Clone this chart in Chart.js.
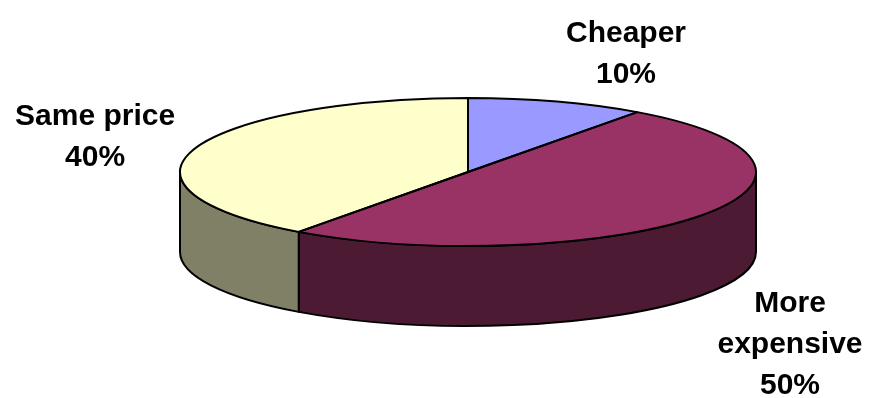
<!DOCTYPE html>
<html>
<head>
<meta charset="utf-8">
<script src="https://cdn.jsdelivr.net/npm/chart.js@4/dist/chart.umd.min.js"></script>
<style>
  html, body { margin: 0; padding: 0; background: #ffffff; }
  #wrap { width: 870px; height: 398px; position: relative; }
</style>
</head>
<body>
<div id="wrap"><canvas id="chart" width="870" height="398"></canvas></div>
<script>
// Survey answers: share of respondents per price expectation
const categories = ['Cheaper', 'More expensive', 'Same price'];
const shares = [10, 50, 40];

// Slice colours: top faces and the darker side walls
const topColors = ['#9999FF', '#993366', '#FFFFCC'];
const sideColors = ['#4D4D80', '#4D1A33', '#808066'];

// Look of the tilted pie
const TILT = 74 / 288;      // vertical squash of the disc
const DEPTH = 80;           // thickness of the disc in pixels
const OUTLINE = 2;
const FONT = 'bold 30px "Liberation Sans", Arial, sans-serif';
const LINE_HEIGHT = 41;
const WRAP_WIDTH = 200;
// label placement relative to the rim point at each slice's middle angle
const labelShift = [[69, -60], [89, 17], [-99, -24]];

const total = shares.reduce((s, v) => s + v, 0);
const percentText = shares.map(v => Math.round(v / total * 100) + '%');

function wrapLines(ctx, text) {
  if (ctx.measureText(text).width <= WRAP_WIDTH) return [text];
  return text.split(' ');
}

const pie3d = {
  id: 'pie3d',
  beforeDatasetsDraw(chart) {
    const ctx = chart.ctx;
    const arcs = chart.getDatasetMeta(0).data;
    const { x: cx, y: cy, outerRadius: r } = arcs[0];
    const ry = r * TILT;

    // front side walls, only the part of each slice facing the viewer
    ctx.save();
    ctx.lineWidth = OUTLINE;
    ctx.lineJoin = 'round';
    ctx.strokeStyle = '#000000';
    arcs.forEach((arc, i) => {
      const lo = Math.max(arc.startAngle, 0);
      const hi = Math.min(arc.endAngle, Math.PI);
      if (lo >= hi) return;
      ctx.beginPath();
      ctx.ellipse(cx, cy, r, ry, 0, lo, hi, false);
      ctx.lineTo(cx + r * Math.cos(hi), cy + ry * Math.sin(hi) + DEPTH);
      ctx.ellipse(cx, cy + DEPTH, r, ry, 0, hi, lo, true);
      ctx.closePath();
      ctx.fillStyle = sideColors[i];
      ctx.fill();
      ctx.stroke();
    });
    ctx.restore();

    // squash the library's slices into the top face
    ctx.save();
    ctx.translate(cx, cy);
    ctx.scale(1, TILT);
    ctx.translate(-cx, -cy);
  },
  afterDatasetsDraw(chart) {
    const ctx = chart.ctx;
    ctx.restore();
    const arcs = chart.getDatasetMeta(0).data;
    const { x: cx, y: cy, outerRadius: r } = arcs[0];
    const ry = r * TILT;

    // outlines of the top faces
    ctx.save();
    ctx.lineWidth = OUTLINE;
    ctx.lineJoin = 'round';
    ctx.strokeStyle = '#000000';
    arcs.forEach(arc => {
      ctx.beginPath();
      ctx.moveTo(cx, cy);
      ctx.ellipse(cx, cy, r, ry, 0, arc.startAngle, arc.endAngle, false);
      ctx.closePath();
      ctx.stroke();
    });

    // category and percentage labels
    ctx.font = FONT;
    ctx.fillStyle = '#000000';
    ctx.textAlign = 'center';
    ctx.textBaseline = 'alphabetic';
    arcs.forEach((arc, i) => {
      const mid = (arc.startAngle + arc.endAngle) / 2;
      const px = cx + r * Math.cos(mid);
      const py = cy + ry * Math.sin(mid) + (Math.sin(mid) > 0 ? DEPTH : 0);
      const lines = wrapLines(ctx, categories[i]).concat(percentText[i]);
      const x = px + labelShift[i][0];
      const y = py + labelShift[i][1];
      lines.forEach((t, k) => ctx.fillText(t, x, y + k * LINE_HEIGHT));
    });
    ctx.restore();
  }
};

new Chart(document.getElementById('chart'), {
  type: 'pie',
  data: {
    labels: categories,
    datasets: [{
      data: shares,
      backgroundColor: topColors,
      borderWidth: 0,
      radius: 288,
      clip: false
    }]
  },
  options: {
    responsive: false,
    animation: false,
    layout: { padding: { left: 66, right: 0, top: 0, bottom: 54 } },
    plugins: {
      legend: { display: false },
      tooltip: { enabled: false }
    }
  },
  plugins: [pie3d]
});
</script>
</body>
</html>
